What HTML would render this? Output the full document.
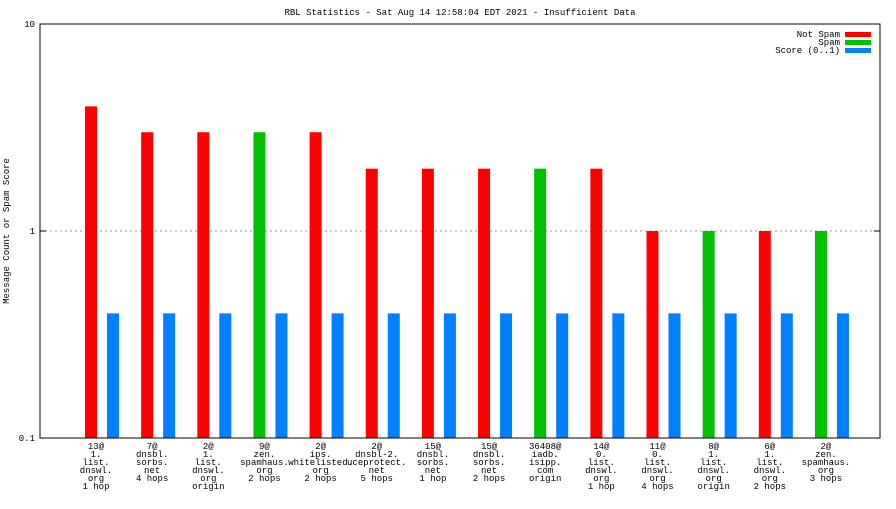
<!DOCTYPE html>
<html><head><meta charset="utf-8"><style>
html,body{margin:0;padding:0;background:#fff}
svg text{font-family:"Liberation Mono","DejaVu Sans Mono",monospace;font-size:9px;fill:#000}
</style></head><body>
<svg id="c" width="896" height="504" viewBox="0 0 896 504" xmlns="http://www.w3.org/2000/svg"></svg>
<script>
const categories=[["13@","1.","list.","dnswl.","org","1 hop"],["7@","dnsbl.","sorbs.","net","4 hops"],["2@","1.","list.","dnswl.","org","origin"],["9@","zen.","spamhaus.","org","2 hops"],["2@","ips.","whitelisted.","org","2 hops"],["2@","dnsbl-2.","uceprotect.","net","5 hops"],["15@","dnsbl.","sorbs.","net","1 hop"],["15@","dnsbl.","sorbs.","net","2 hops"],["36408@","iadb.","isipp.","com","origin"],["14@","0.","list.","dnswl.","org","1 hop"],["11@","0.","list.","dnswl.","org","4 hops"],["8@","1.","list.","dnswl.","org","origin"],["6@","1.","list.","dnswl.","org","2 hops"],["2@","zen.","spamhaus.","org","3 hops"]];
const notSpam=[4,3,3,0,3,2,2,2,0,2,1,0,1,0];
const spam=[0,0,0,3,0,0,0,0,2,0,0,1,0,1];
const score=[0.4,0.4,0.4,0.4,0.4,0.4,0.4,0.4,0.4,0.4,0.4,0.4,0.4,0.4];
const yTicks=[0.1,1,10];
const yTickLabels=["0.1","1","10"];
const svg=document.getElementById('c');const NS="http://www.w3.org/2000/svg";
function mk(t,a,p){const e=document.createElementNS(NS,t);for(const k in a)e.setAttribute(k,a[k]);(p||svg).appendChild(e);return e;}
const L=40,R=880,T=24,B=438;
function y(v){return B-(Math.log10(v)+1)/2*(B-T);}
function x(i){return 96+i*56.15;}
// grid at 1
let g=mk('line',{x1:L,x2:R,y1:y(1),y2:y(1),stroke:'#999','stroke-dasharray':'2,3'});


yTicks.forEach((v,i)=>{
 const t=mk('text',{x:L-5,y:y(v)+3,'text-anchor':'end'});t.textContent=yTickLabels[i];
 
 
 mk('line',{x1:L,x2:L+6,y1:y(v),y2:y(v),stroke:'#000'});
 mk('line',{x1:R-6,x2:R,y1:y(v),y2:y(v),stroke:'#000'});
});
categories.forEach((lines,i)=>{
 const c=x(i);
 if(notSpam[i]>0){const r=mk('rect',{x:c-11,y:y(notSpam[i]),width:12,height:B-y(notSpam[i]),fill:'#ff0000'});
  
  }
 if(spam[i]>0){const r=mk('rect',{x:c-11,y:y(spam[i]),width:12,height:B-y(spam[i]),fill:'#00c000'});
  
  }
 const s=mk('rect',{x:c+11,y:y(score[i]),width:12,height:B-y(score[i]),fill:'#0080ff'});
 
 
 const t=mk('text',{x:c,y:449,'text-anchor':'middle'});
 
 
 lines.forEach((ln,j)=>{const ts=mk('tspan',{x:c,dy:j?8:0},t);ts.textContent=ln;});
});
mk('rect',{x:L,y:T,width:R-L,height:B-T,fill:'none',stroke:'#000'});
let tt=mk('text',{x:460,y:15,'text-anchor':'middle'});tt.textContent="RBL Statistics - Sat Aug 14 12:58:04 EDT 2021 - Insufficient Data";


let yl=mk('text',{x:9,y:231,'text-anchor':'middle',transform:'rotate(-90 9 231)'});yl.textContent="Message Count or Spam Score";


const leg=[["Not Spam","#ff0000"],["Spam","#00c000"],["Score (0..1)","#0080ff"]];
leg.forEach((l,i)=>{
 const yy=34+i*8;
 const t=mk('text',{x:840,y:yy+3,'text-anchor':'end'});t.textContent=l[0];
 
 
 mk('rect',{x:845,y:yy-2,width:26,height:5,fill:l[1]});
});
</script>
</body></html>
